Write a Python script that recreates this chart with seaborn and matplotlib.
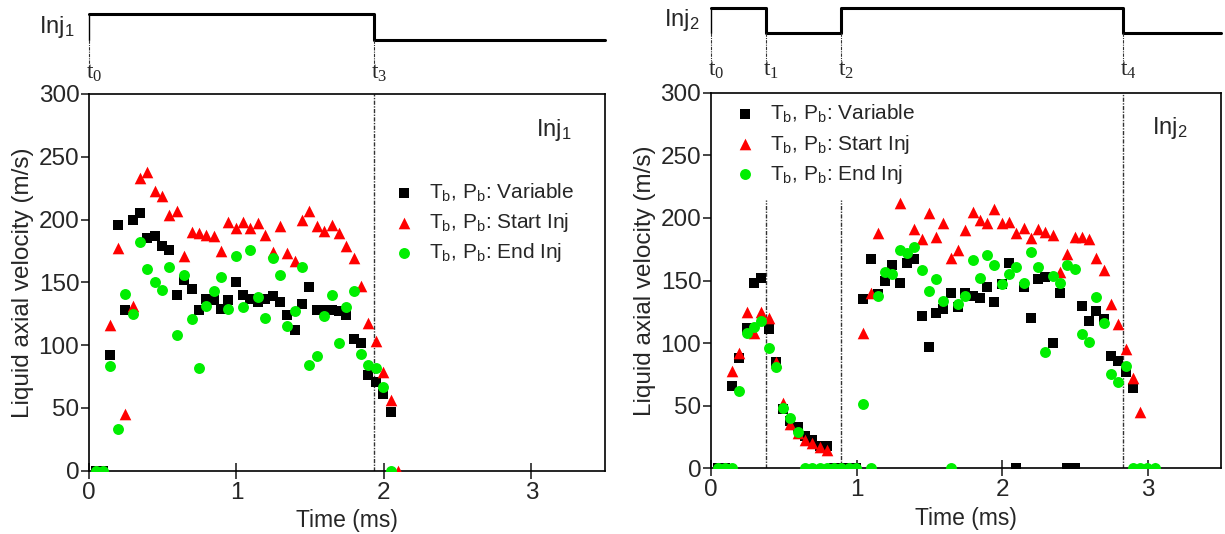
import numpy as np
import pandas as pd
import matplotlib.pyplot as plt
import seaborn as sns

# ---- Inj1 panel (left) ----
t_inj1 = [0.045, 0.095, 0.145, 0.195, 0.245, 0.295, 0.345, 0.395, 0.445, 0.495,
          0.545, 0.595, 0.645, 0.695, 0.745, 0.795, 0.845, 0.895, 0.945, 0.995,
          1.045, 1.095, 1.145, 1.195, 1.245, 1.295, 1.345, 1.395, 1.445, 1.495,
          1.545, 1.595, 1.645, 1.695, 1.745, 1.795, 1.845, 1.895, 1.945, 1.995,
          2.045, 2.095]
var_inj1 = [0, 0, 92, 196, 128, 200, 205, 185, 187, 179,
            176, 140, 152, 145, 128, 137, 136, 129, 136, 150,
            140, 137, 134, 137, 139, 134, 124, 112, 133, 146,
            128, 128, 128, 127, 124, 105, 102, 76, 71, 61,
            47, np.nan]
start_inj1 = [0, 0, 116, 177, 45, 131, 233, 238, 223, 219,
              204, 207, 171, 190, 189, 188, 187, 175, 198, 193,
              198, 193, 197, 188, 174, 195, 173, 167, 200, 207,
              195, 191, 196, 189, 179, 169, 147, 118, 103, 79,
              56, 0]
end_inj1 = [0, 0, 83, 33, 141, 125, 182, 161, 150, 144,
            162, 108, 156, 121, 82, 131, 143, 154, 129, 171,
            130, 176, 138, 122, 169, 156, 115, 127, 162, 84,
            91, 123, 140, 102, 130, 143, 93, 84, 82, 67,
            0, np.nan]

# ---- Inj2 panel (right) ----
t_inj2 = [0.045, 0.095, 0.145, 0.195, 0.245, 0.295, 0.345, 0.395, 0.445, 0.495,
          0.545, 0.595, 0.645, 0.695, 0.745, 0.795, 0.845, 0.895, 0.945, 0.995,
          1.045, 1.095, 1.145, 1.195, 1.245, 1.295, 1.345, 1.395, 1.445, 1.495,
          1.545, 1.595, 1.645, 1.695, 1.745, 1.795, 1.845, 1.895, 1.945, 1.995,
          2.045, 2.095, 2.145, 2.195, 2.245, 2.295, 2.345, 2.395, 2.445, 2.495,
          2.545, 2.595, 2.645, 2.695, 2.745, 2.795, 2.845, 2.895, 2.945, 2.995,
          3.045]
var_inj2 = [0, 0, 66, 88, 112, 148, 152, 111, 85, 47,
            38, 33, 26, 23, 18, 18, 0, 0, 0, 0,
            135, 167, 139, 150, 162, 148, 164, 167, 122, 97,
            124, 127, 140, 129, 140, 138, 136, 145, 133, 147,
            164, 0, 145, 120, 151, 153, 100, 140, 0, 0,
            130, 118, 126, 119, 90, 86, 77, 64, np.nan, np.nan,
            np.nan]
start_inj2 = [0, 0, 78, 92, 125, 108, 125, 120, 85, 52,
              35, 28, 23, 20, 17, 15, 0, 0, 0, 0,
              108, 140, 188, np.nan, np.nan, 212, np.nan, 191, 183, 204,
              185, 196, 168, 174, 190, 205, 198, 196, 207, 196,
              197, 188, 192, 184, 191, 189, 186, 157, 171, 185,
              185, 183, 168, 158, 131, 115, 95, 72, 45, 0,
              0]
end_inj2 = [0, 0, 0, 62, 108, 113, 118, 96, 81, 48,
            40, 29, 0, 0, 0, 0, 0, 0, 0, 0,
            51, 0, 138, 157, 155, 174, 172, 177, 158, 142,
            151, 134, 0, 131, 138, 166, 152, 170, 162, 147,
            155, 161, 148, 173, 161, 93, 154, 148, 162, 159,
            107, 101, 137, 116, 75, 69, 82, 0, 0, 0,
            0]

# ---- injector command signals ----
inj1_sig_t = [0.0, 1.935, 3.5]
inj1_sig_v = [1, 0, 0]
inj1_events = [0.0, 1.935]
inj1_event_ids = ['0', '3']

inj2_sig_t = [0.0, 0.38, 0.89, 2.83, 3.5]
inj2_sig_v = [1, 0, 1, 0, 0]
inj2_events = [0.0, 0.38, 0.89, 2.83]
inj2_event_ids = ['0', '1', '2', '4']
# height of the guide lines inside the velocity panels (skip t0)
inj1_guide_top = [300]
inj2_guide_top = [214, 214, 300]

series_names = ['Variable', 'Start Inj', 'End Inj']
series_colors = ['#000000', '#ff0000', '#00ee00']
series_markers = ['s', '^', 'o']
series_sizes = [48, 70, 62]

sns.set_style('ticks')
plt.rcParams['font.family'] = ['Liberation Sans', 'DejaVu Sans']
plt.rcParams['mathtext.fontset'] = 'custom'
plt.rcParams['mathtext.rm'] = 'Liberation Sans'

fig = plt.figure(figsize=(12.25, 5.34), dpi=100)

ax_l = fig.add_axes([0.0727, 0.1185, 0.4212, 0.7055])
ax_r = fig.add_axes([0.5804, 0.1230, 0.4163, 0.7034])
top_l = fig.add_axes([0.0727, 0.824, 0.4212, 0.1685])
top_r = fig.add_axes([0.5804, 0.8264, 0.4163, 0.168])


def velocity_panel(ax, t, series, events, guide_top, tag, legend_anchor):
    df = pd.DataFrame({'t': t})
    for name, vals in zip(series_names, series):
        df[name] = vals
    for name, c, m, s in zip(series_names, series_colors, series_markers, series_sizes):
        sns.scatterplot(data=df, x='t', y=name, ax=ax, color=c, marker=m, s=s,
                        linewidth=0, label=r'$\mathregular{T_b}$, $\mathregular{P_b}$: ' + name,
                        zorder=3)
    for ev, top in zip(events[1:], guide_top):
        ax.plot([ev, ev], [0, top], color='#333333', lw=1.0, ls=(0, (3, 1, 1, 1)), zorder=2)
    ax.set_xlim(0, 3.5)
    ax.set_ylim(0, 300)
    ax.set_xticks([0, 1, 2, 3])
    ax.set_yticks([0, 50, 100, 150, 200, 250, 300])
    ax.tick_params(axis='x', direction='inout', length=12, width=1.2, labelsize=17.5, pad=2)
    ax.tick_params(axis='y', direction='out', length=6, width=1.2, labelsize=17.5, pad=1)
    for sp in ax.spines.values():
        sp.set_visible(True)
        sp.set_linewidth(1.2)
        sp.set_color('black')
    ax.set_xlabel('Time (ms)', fontsize=16.5, labelpad=4)
    ax.set_ylabel('Liquid axial velocity (m/s)', fontsize=17.5, labelpad=3)
    ax.text(0.9, 0.905, tag, transform=ax.transAxes, ha='center', va='center', fontsize=17)
    ax.legend(loc='upper left', bbox_to_anchor=legend_anchor, frameon=False, fontsize=15,
              handlelength=1.0, handletextpad=0.7, labelspacing=0.35, borderaxespad=0)


def signal_panel(ax, sig_t, sig_v, events, ids, lo, hi, label, label_x):
    ax.set_xlim(0, 3.5)
    ax.set_ylim(lo, hi)
    ax.axis('off')
    ax.plot(sig_t, sig_v, drawstyle='steps-post', color='black', lw=2.2, clip_on=False)
    ax.plot([events[0], events[0]], [0, 1], color='black', lw=1.0, clip_on=False)
    for ev, i in zip(events, ids):
        ax.plot([ev, ev], [0, lo * 0.47], color='#333333', lw=0.8,
                ls=(0, (3, 1, 1, 1)), clip_on=False)
        ax.text(ev - 0.02, lo * 0.72, r'$\mathregular{t_' + i + '}$', ha='left',
                va='baseline', fontsize=17, family='Liberation Serif')
    ax.text(label_x, 0.5, r'$\mathregular{Inj_' + label + '}$', ha='center', va='center',
            fontsize=17, clip_on=False)


velocity_panel(ax_l, t_inj1, [var_inj1, start_inj1, end_inj1], inj1_events, inj1_guide_top,
               r'$\mathregular{Inj_1}$', (0.575, 0.79))
velocity_panel(ax_r, t_inj2, [var_inj2, start_inj2, end_inj2], inj2_events, inj2_guide_top,
               r'$\mathregular{Inj_2}$', (0.03, 0.995))

signal_panel(top_l, inj1_sig_t, inj1_sig_v, inj1_events, inj1_event_ids, -2.08, 1.385, '1', -0.22)
signal_panel(top_r, inj2_sig_t, inj2_sig_v, inj2_events, inj2_event_ids, -2.4, 1.2, '2', -0.2)

fig.savefig('out.png', dpi=100)
